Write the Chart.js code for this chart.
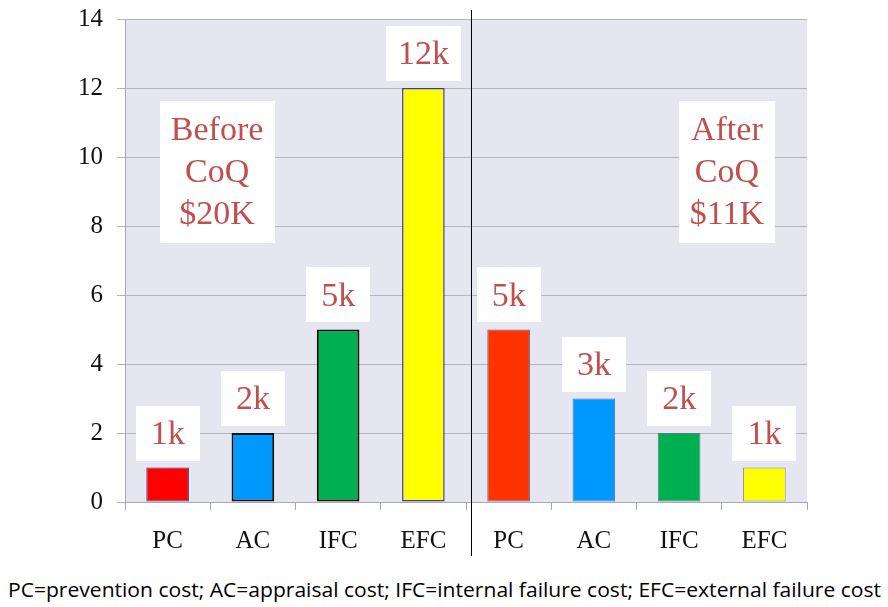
<!DOCTYPE html>
<html>
<head>
<meta charset="utf-8">
<script src="https://cdn.jsdelivr.net/npm/chart.js@4"></script>
<style>
  html, body { margin: 0; padding: 0; background: #fff; }
  #wrap { position: relative; width: 888px; height: 560px; }
  #footer {
    position: absolute; left: 8px; top: 576px;
    font-family: 'Liberation Sans Narrow', 'Open Sans', sans-serif;
    font-size: 20px; color: #000; white-space: nowrap;
    transform-origin: left top;
  }
</style>
</head>
<body>
<div id="wrap"><canvas id="coqChart"></canvas></div>
<div id="footer">PC=prevention cost; AC=appraisal cost; IFC=internal failure cost; EFC=external failure cost</div>
<script>
const categories = ['PC', 'AC', 'IFC', 'EFC', 'PC', 'AC', 'IFC', 'EFC'];
const costs = [1, 2, 5, 12, 5, 3, 2, 1];   // thousands of dollars
const yMax = 14;
const yStep = 2;
const beforeNote = ['Before', 'CoQ', '$20K'];
const afterNote = ['After', 'CoQ', '$11K'];

const barColors = ['#ff0000', '#0099ff', '#00b050', '#ffff00', '#ff3300', '#0099ff', '#00b050', '#ffff00'];
const barBorders = ['#3c3c8c', '#111111', '#111111', '#3c3c9c', '#5a5aa0', '#5a6aa8', '#5a7a90', '#8c8ca0'];
const barBorderW = [1, 2, 2, 1.5, 1, 1, 1, 1];

const labelRed = '#c0504d';
const serif = "'Liberation Serif', 'DejaVu Serif', serif";

// lavender plot background + the before/after divider
const backdrop = {
  id: 'backdrop',
  beforeDraw(chart) {
    const { ctx, chartArea: a } = chart;
    ctx.save();
    ctx.fillStyle = '#e6e6f1';
    ctx.fillRect(a.left, a.top, a.right - a.left, a.bottom - a.top);
    ctx.restore();
  },
  afterDraw(chart) {
    const { ctx } = chart;
    const x = chart.scales.x;
    const mid = (x.getPixelForValue(3) + x.getPixelForValue(4)) / 2 + 5;
    ctx.save();
    ctx.strokeStyle = '#000';
    ctx.lineWidth = 1;
    ctx.beginPath();
    ctx.moveTo(Math.round(mid) + 0.5, 10);
    ctx.lineTo(Math.round(mid) + 0.5, 556);
    ctx.stroke();
    ctx.restore();
  }
};

function whiteBox(ctx, cx, cy, w, h) {
  ctx.fillStyle = '#fff';
  ctx.fillRect(Math.round(cx - w / 2), Math.round(cy - h / 2), Math.round(w), Math.round(h));
}

// "1k" style value boxes and the two CoQ notes
const valueBoxes = {
  id: 'valueBoxes',
  afterDatasetsDraw(chart) {
    const { ctx } = chart;
    const meta = chart.getDatasetMeta(0);
    ctx.save();
    ctx.font = '34px ' + serif;
    ctx.textAlign = 'center';
    ctx.textBaseline = 'middle';
    meta.data.forEach((bar, i) => {
      const txt = costs[i] + 'k';
      const w = Math.max(64, ctx.measureText(txt).width + 24);
      const h = 55;
      const cy = bar.y - 7 - h / 2;
      whiteBox(ctx, bar.x, cy, w, h);
      ctx.fillStyle = labelRed;
      ctx.fillText(txt, bar.x, cy + 2);
    });

    const xs = chart.scales.x, ys = chart.scales.y;
    const notes = [[beforeNote, 0.58], [afterNote, 6.56]];
    notes.forEach(([lines, idx]) => {
      const cx = xs.getPixelForValue(0) + (xs.getPixelForValue(1) - xs.getPixelForValue(0)) * idx;
      const cy = ys.getPixelForValue(9.57);
      const tw = Math.max(...lines.map(l => ctx.measureText(l).width));
      whiteBox(ctx, cx, cy, tw + 22, 142);
      ctx.fillStyle = labelRed;
      lines.forEach((l, k) => ctx.fillText(l, cx, cy + (k - 1) * 42 + 1));
    });
    ctx.restore();
  }
};

const cfg = {
  type: 'bar',
  data: {
    labels: categories,
    datasets: [{
      data: costs,
      backgroundColor: barColors,
      borderColor: barBorders,
      borderWidth: barBorderW,
      borderSkipped: false,
      categoryPercentage: 1,
      barPercentage: 0.5
    }]
  },
  options: {
    responsive: true,
    maintainAspectRatio: false,
    animation: false,
    layout: { padding: { left: 0, right: 81, top: 19, bottom: 0 } },
    plugins: { legend: { display: false }, tooltip: { enabled: false } },
    scales: {
      x: {
        offset: true,
        grid: { offset: true, drawOnChartArea: false, drawTicks: true, tickLength: 8, color: '#a8a8b0' },
        border: { color: '#a8a8b0' },
        ticks: { color: '#111', font: { family: serif, size: 25 }, padding: 16 },
        afterFit(scale) { scale.height = 58; }
      },
      y: {
        min: 0, max: yMax,
        grid: { color: '#b4b4bc', tickLength: 8 },
        border: { color: '#a8a8b0' },
        ticks: { stepSize: yStep, color: '#111', font: { family: serif, size: 25 }, padding: 14 },
        afterFit(scale) {
          scale.width = 125;
          scale.paddingTop = 0;
          scale.paddingBottom = 0;
        }
      }
    }
  },
  plugins: [backdrop, valueBoxes]
};

const chartInstance = new Chart(document.getElementById('coqChart'), cfg);

// stretch footer to the reference width
const footer = document.getElementById('footer');
const fw = footer.getBoundingClientRect().width;
footer.style.transform = 'scaleX(' + (873 / fw) + ')';
</script>
</body>
</html>
